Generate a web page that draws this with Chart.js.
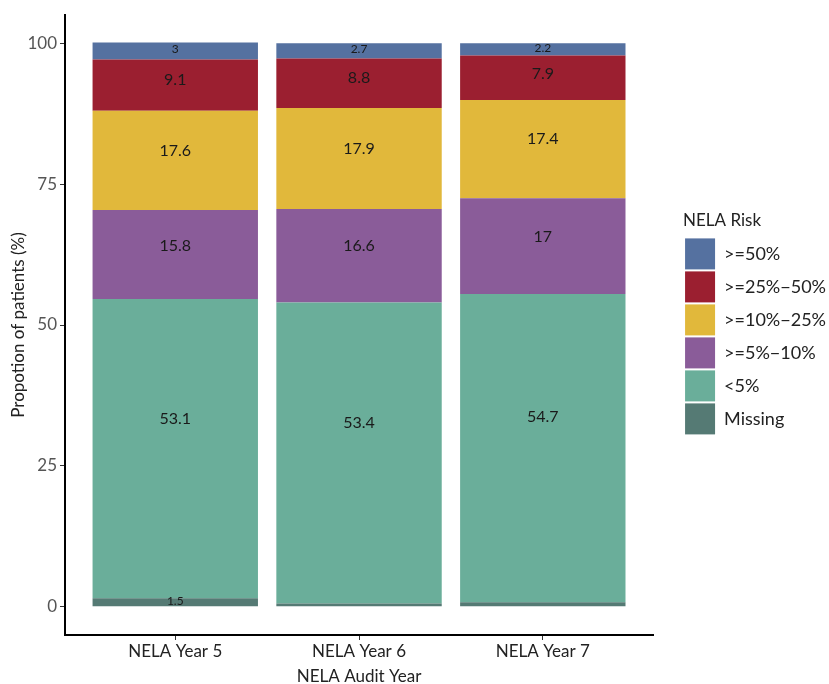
<!DOCTYPE html>
<html>
<head>
<meta charset="utf-8">
<script src="https://cdn.jsdelivr.net/npm/chart.js@4"></script>
<style>
  html, body { margin: 0; padding: 0; background: #fff; }
  #wrap { width: 829px; height: 684px; }
</style>
</head>
<body>
<div id="wrap"><canvas id="grafica" width="829" height="684"></canvas></div>
<script>
// datos
const anios = ['NELA Year 5', 'NELA Year 6', 'NELA Year 7'];
const riesgos = ['Missing', '<5%', '>=5%\u221210%', '>=10%\u221225%', '>=25%\u221250%', '>=50%'];
const missing = [1.5, 0.6, 0.8];
const menos5 = [53.1, 53.4, 54.7];
const r5a10 = [15.8, 16.6, 17];
const r10a25 = [17.6, 17.9, 17.4];
const r25a50 = [9.1, 8.8, 7.9];
const mas50 = [3, 2.7, 2.2];
const yTicks = [0, 25, 50, 75, 100];

const colores = ['#557a74', '#6aae9a', '#8a5c99', '#e1b83b', '#9b1f30', '#5571a0'];
const series = [missing, menos5, r5a10, r10a25, r25a50, mas50];

const fuente = 'Lato, "DejaVu Sans", sans-serif';

// etiquetas dentro de las barras
const etiquetas = {
  id: 'etiquetas',
  afterDatasetsDraw(chart) {
    const ctx = chart.ctx;
    ctx.save();
    ctx.textAlign = 'center';
    ctx.textBaseline = 'middle';
    ctx.fillStyle = '#1a1a1a';
    chart.data.datasets.forEach((ds, i) => {
      const meta = chart.getDatasetMeta(i);
      meta.data.forEach((bar, j) => {
        const v = ds.data[j].y;
        if (v < 1) return;
        const y = bar.base + (bar.y - bar.base) * 0.6;
        ctx.font = (v < 5 ? 12 : 16) + 'px ' + fuente;
        ctx.fillText(String(v), bar.x, y);
      });
    });
    ctx.restore();
  }
};

// separa la leyenda del area del grafico
const moverLeyenda = {
  id: 'moverLeyenda',
  afterLayout(chart) {
    const d = chart.chartArea.right + 30 - chart.legend.left;
    chart.legend.left += d;
    chart.legend.right += d;
  }
};

new Chart(document.getElementById('grafica'), {
  type: 'bar',
  data: {
    datasets: riesgos.map((r, i) => ({
      label: r,
      data: series[i].map((v, j) => ({ x: j + 1, y: v })),
      backgroundColor: colores[i],
      borderWidth: 0,
      barPercentage: 0.9,
      categoryPercentage: 1
    }))
  },
  plugins: [etiquetas, moverLeyenda],
  options: {
    responsive: false,
    animation: false,
    layout: { padding: { top: 15, right: 23, left: 0, bottom: 0 } },
    plugins: {
      tooltip: { enabled: false },
      legend: {
        position: 'right',
        align: 'start',
        reverse: true,
        title: {
          display: true,
          text: 'NELA Risk',
          position: 'start',
          color: '#222',
          font: { family: fuente, size: 17 },
          padding: { top: 197, bottom: 4 }
        },
        labels: {
          boxWidth: 30,
          boxHeight: 31,
          padding: 2,
          color: '#222',
          font: { family: fuente, size: 18 }
        }
      }
    },
    scales: {
      x: {
        type: 'linear',
        stacked: true,
        offset: false,
        min: 0.4,
        max: 3.6,
        afterBuildTicks: s => { s.ticks = anios.map((a, i) => ({ value: i + 1 })); },
        afterFit: s => { s.height = 49; },
        ticks: {
          callback: (v, i) => anios[i],
          color: '#222',
          font: { family: fuente, size: 17 },
          padding: 1
        },
        grid: { offset: false, drawOnChartArea: false, tickLength: 5, color: '#333' },
        border: { display: true, color: '#000', width: 2 },
        title: {
          display: true,
          text: 'NELA Audit Year',
          color: '#222',
          font: { family: fuente, size: 17 },
          padding: { top: 4, bottom: -3 }
        }
      },
      y: {
        stacked: true,
        min: -5,
        max: 105,
        afterBuildTicks: s => { s.ticks = yTicks.map(v => ({ value: v })); },
        afterFit: s => { s.width = 65; },
        ticks: {
          color: '#555',
          font: { family: fuente, size: 17 },
          padding: 3
        },
        grid: { drawOnChartArea: false, tickLength: 5, color: '#333' },
        border: { display: true, color: '#000', width: 2 },
        title: {
          display: true,
          text: 'Propotion of patients (%)',
          color: '#222',
          font: { family: fuente, size: 17 },
          padding: { top: 8, bottom: 2 }
        }
      }
    }
  }
});
</script>
</body>
</html>
